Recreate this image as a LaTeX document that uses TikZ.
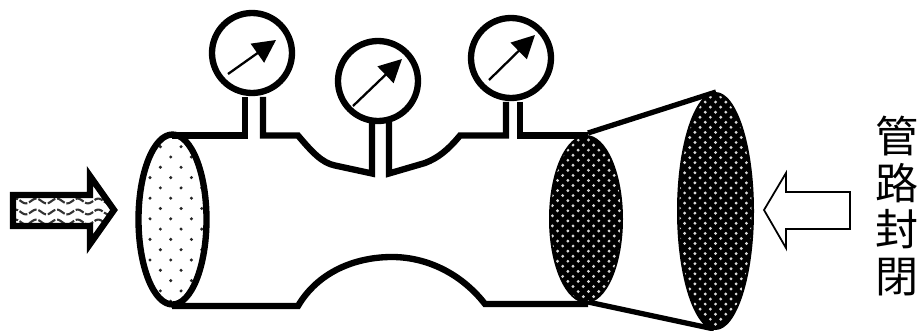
\documentclass[tikz,border=0pt]{standalone}
\usepackage{fontspec}
\newfontfamily\cjk{Noto Sans CJK TC}
\usetikzlibrary{arrows.meta}
\tikzset{
pipe/.style={line width=3.6pt,line join=miter},
rim/.style={line width=3pt},
needle/.style={line width=1.3pt,-{Triangle[length=13pt,width=13pt]}},
label/.style={inner sep=0pt,align=center,font=\cjk\fontsize{24.5}{26.6}\selectfont}
}
\begin{document}
\begin{tikzpicture}[x=0.02cm,y=-0.02cm]
\useasboundingbox (0,0) rectangle (920,331);
% flow arrow
\begin{scope}
\clip (12,195)--(90,195)--(90,176)--(116,210)--(90,244)--(90,226)--(12,226)--cycle;
\foreach \row in {201,212,222}
\draw[line width=1.2pt,black!80,dash pattern=on 5pt off 1pt,domain=10:120,samples=70,smooth] plot (\x,{\row+2.4*sin(17.4*\x)});
\end{scope}
\draw[pipe] (13,195)--(90,195)--(90,176)--(114,210)--(90,244)--(90,226)--(13,226)--cycle;
% pipe walls
\draw[pipe] (172,135.5)--(245,135.5)--(245,97);
\draw[pipe] (263,97)--(263,135.5)--(298,135.5) .. controls (312,152) and (322,163) .. (335,165.5)--(372,173.5)--(372,122);
\draw[pipe] (389,122)--(389,173.5)--(425,163) .. controls (438,158) and (448,150) .. (460,135.5)--(506,135.5)--(506,102);
\draw[pipe] (520,102)--(520,135.5)--(588,135.5);
\draw[pipe] (172,306)--(298,306) .. controls (318,272) and (355,257) .. (392,257) .. controls (425,257) and (460,272) .. (485,304)--(588,304);
% gauges
\draw[pipe,fill=white] (252,53) circle (40);
\draw[pipe,fill=white] (378,81) circle (40);
\draw[pipe,fill=white] (511,58) circle (40);
\draw[needle] (228,74)--(276,40);
\draw[needle] (353,106)--(402,59);
\draw[needle] (489,80)--(535,35);
% open end
\begin{scope}
\clip (172.5,219.5) ellipse [x radius=34,y radius=85];
\foreach \i in {0,...,16}
\foreach \j in {-2,...,2}
\fill[black!85] ({170.7+20.7*\j+10.35*mod(\i,2)},{146.7+10.3*(\i-1)}) circle (1.7);
\end{scope}
\draw[pipe] (172.5,219.5) ellipse [x radius=34,y radius=85];
% cone
\draw[rim] (588,133)--(716,92);
\draw[rim] (588,302)--(714,329);
% closed ends
\fill (586,219) ellipse [x radius=37,y radius=84];
\begin{scope}
\clip (586,219) ellipse [x radius=35,y radius=82];
\foreach \i in {0,...,33}
\foreach \j in {-4,...,4}
\fill[white!85!black] ({583.3+10.3*\j+5.15*mod(\i,2)},{135+5.05*\i}) circle (1.6);
\end{scope}
\fill (715.5,211) ellipse [x radius=38.5,y radius=119];
\begin{scope}
\clip (715.5,211) ellipse [x radius=36,y radius=116];
\foreach \i in {0,...,47}
\foreach \j in {-4,...,4}
\fill[white!85!black] ({715.5+10.3*\j+5.15*mod(\i,2)},{92+5.05*\i}) circle (1.6);
\end{scope}
% closing arrow
\draw[line width=1pt] (850,192)--(786,192)--(786,173)--(764,210)--(786,248)--(786,229)--(850,229)--cycle;
\node[label] (closed) at (897,206) {管\\路\\封\\閉};
\end{tikzpicture}
\end{document}
